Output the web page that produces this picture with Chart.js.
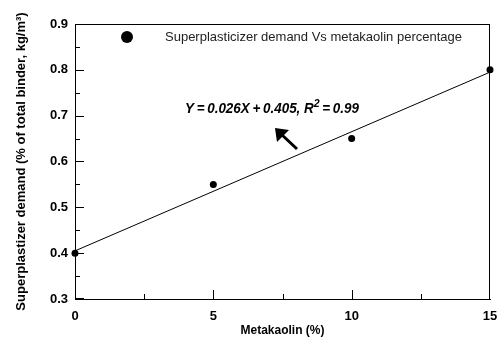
<!DOCTYPE html>
<html><head><meta charset="utf-8">
<script src="https://cdn.jsdelivr.net/npm/chart.js@4"></script>
<style>html,body{margin:0;padding:0;background:#fff}#wrap{width:498px;height:338px}</style>
</head><body><div id="wrap"><canvas id="c" width="498" height="338"></canvas></div>
<script>
const metakaolin = [0, 5, 10, 15];
const demand = [0.40, 0.55, 0.65, 0.80];
const fitX = [0, 15];
const fitY = [0.405, 0.795];
const xTicks = [0, 5, 10, 15];
const yTicks = [0.3, 0.4, 0.5, 0.6, 0.7, 0.8, 0.9];
const legendText = 'Superplasticizer demand Vs metakaolin percentage';
const xTitle = 'Metakaolin (%)';
const yTitle = 'Superplastizer demand (% of total binder, kg/m³)';
const eqMain = 'Y\u2009=\u20090.026X\u2009+\u20090.405, R';
const eqSup = '2';
const eqEnd = '\u2009=\u20090.99';

const FONT = '"Liberation Sans", Arial, sans-serif';

const decor = {
  id: 'decor',
  afterDatasetsDraw(chart) {
    const ctx = chart.ctx, a = chart.chartArea;
    const xs = chart.scales.x, ys = chart.scales.y;
    ctx.save();
    ctx.fillStyle = '#000';
    const L = Math.round(a.left), R = Math.round(a.right), T = Math.round(a.top), B = Math.round(a.bottom);
    ctx.fillRect(L, T, R - L, 1);
    ctx.fillRect(R - 1, T, 1, B - T);
    for (let v = 0; v <= 15; v += 2.5) {
      const px = Math.round(xs.getPixelForValue(v));
      const len = (v % 5 === 0) ? 9 : 5;
      ctx.fillRect(Math.min(px, R - 1), B - len, 1, len);
    }
    for (let i = 0; i <= 12; i++) {
      const v = 0.3 + i * 0.05;
      const py = Math.round(ys.getPixelForValue(v));
      const len = (i % 2 === 0) ? 9 : 5;
      ctx.fillRect(L, Math.min(py, B - 1), len, 1);
    }
    ctx.restore();
  },
  afterDraw(chart) {
    const ctx = chart.ctx;
    ctx.save();
    ctx.fillStyle = '#000';
    // legend
    ctx.beginPath(); ctx.arc(127, 37, 6, 0, Math.PI * 2); ctx.fill();
    ctx.font = '13px ' + FONT; ctx.textBaseline = 'middle'; ctx.textAlign = 'left';
    ctx.fillStyle = '#222';
    ctx.fillText(legendText, 165, 37);
    // equation
    ctx.fillStyle = '#000';
    ctx.textBaseline = 'alphabetic';
    ctx.font = 'italic bold 14px ' + FONT;
    const w1 = ctx.measureText(eqMain).width;
    const w3 = ctx.measureText(eqEnd).width;
    ctx.font = 'italic bold 11px ' + FONT;
    const w2 = ctx.measureText(eqSup).width;
    const sx = 174 / (w1 + w2 + w3);
    ctx.save();
    ctx.translate(185, 113); ctx.scale(sx, 1);
    ctx.font = 'italic bold 14px ' + FONT;
    ctx.fillText(eqMain, 0, 0);
    ctx.fillText(eqEnd, w1 + w2, 0);
    ctx.font = 'italic bold 11px ' + FONT;
    ctx.fillText(eqSup, w1, -6);
    ctx.restore();
    // arrow
    ctx.strokeStyle = '#000'; ctx.lineWidth = 3;
    ctx.beginPath(); ctx.moveTo(297, 149); ctx.lineTo(281, 134); ctx.stroke();
    ctx.beginPath();
    ctx.moveTo(275, 128); ctx.lineTo(289, 130); ctx.lineTo(277, 142); ctx.closePath(); ctx.fill();
    ctx.restore();
  }
};

new Chart(document.getElementById('c'), {
  type: 'scatter',
  data: {
    datasets: [
      {
        data: metakaolin.map((x, i) => ({x, y: demand[i]})),
        backgroundColor: '#000', borderColor: '#000',
        pointRadius: 3.5, pointHoverRadius: 3.5, borderWidth: 0, clip: false
      },
      {
        type: 'line',
        data: fitX.map((x, i) => ({x, y: fitY[i]})),
        borderColor: '#000', borderWidth: 1, pointRadius: 0, fill: false, tension: 0
      }
    ]
  },
  options: {
    responsive: false, animation: false, devicePixelRatio: 1,
    layout: {padding: {top: 24, right: 0, left: 0, bottom: 0}},
    plugins: {legend: {display: false}, tooltip: {enabled: false}},
    scales: {
      x: {
        type: 'linear', min: 0, max: 15,
        afterBuildTicks: s => { s.ticks = xTicks.map(v => ({value: v})); },
        afterFit: s => { s.height = 39; s.paddingRight = 8; s.paddingLeft = 0; },
        grid: {display: false, drawTicks: false},
        border: {display: true, color: '#000', width: 1},
        ticks: {color: '#000', font: {family: FONT, size: 13, weight: 'bold'}, padding: 10, maxRotation: 0},
        title: {display: true, text: xTitle, color: '#000', font: {family: FONT, size: 12, weight: 'bold'}, padding: {top: 0, bottom: 0}}
      },
      y: {
        type: 'linear', min: 0.3, max: 0.9,
        afterBuildTicks: s => { s.ticks = yTicks.map(v => ({value: v})); },
        afterFit: s => { s.width = 75; s.paddingTop = 0; s.paddingBottom = 0; },
        grid: {display: false, drawTicks: false},
        border: {display: true, color: '#000', width: 1},
        ticks: {color: '#000', font: {family: FONT, size: 13, weight: 'bold'}, padding: 7, callback: v => v.toFixed(1)},
        title: {display: true, text: yTitle, color: '#000', font: {family: FONT, size: 13, weight: 'bold'}, padding: {top: 14, bottom: 0}}
      }
    }
  },
  plugins: [decor]
});
</script></body></html>
